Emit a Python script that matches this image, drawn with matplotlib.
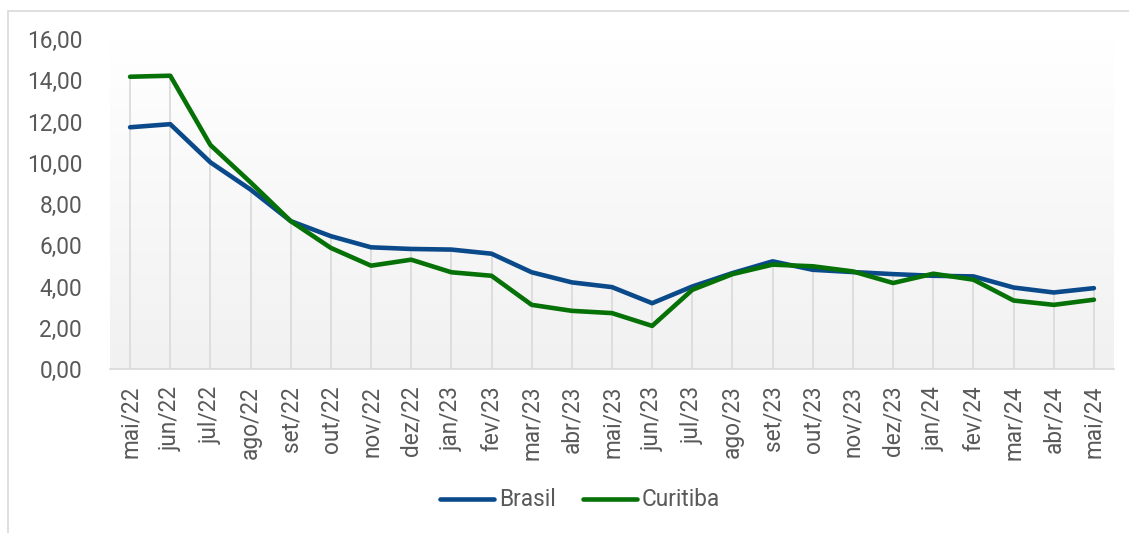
import numpy as np
import matplotlib.pyplot as plt
from matplotlib.patches import Rectangle

plt.rcParams['font.family'] = ['Roboto', 'DejaVu Sans']

meses = ['mai/22', 'jun/22', 'jul/22', 'ago/22', 'set/22', 'out/22', 'nov/22', 'dez/22',
         'jan/23', 'fev/23', 'mar/23', 'abr/23', 'mai/23', 'jun/23', 'jul/23', 'ago/23',
         'set/23', 'out/23', 'nov/23', 'dez/23', 'jan/24', 'fev/24', 'mar/24', 'abr/24',
         'mai/24']
brasil = [11.72, 11.87, 10.02, 8.70, 7.17, 6.44, 5.90, 5.82, 5.79, 5.59, 4.69, 4.20, 3.97,
          3.19, 4.00, 4.65, 5.22, 4.81, 4.70, 4.60, 4.52, 4.49, 3.95, 3.71, 3.92]
curitiba = [14.17, 14.22, 10.86, 9.05, 7.17, 5.87, 5.01, 5.30, 4.69, 4.52, 3.11, 2.82, 2.71,
            2.09, 3.84, 4.60, 5.06, 4.98, 4.73, 4.17, 4.62, 4.33, 3.32, 3.11, 3.36]
yticks = [0, 2, 4, 6, 8, 10, 12, 14, 16]

txt = '#595959'
fs = 16.3
fig = plt.figure(figsize=(11.29, 5.33), dpi=100)
# chart border
fig.patches.append(Rectangle((8/1129, -0.1), 1.2, 1 - 11/533 + 0.1, transform=fig.transFigure,
                             fill=False, edgecolor='#d9d9d9', lw=1.2))
ax = fig.add_axes([110/1129, 1 - 369/533, 1004/1129, 330/533])

x = np.arange(len(meses))
ax.set_xlim(-0.5, len(meses) - 0.5)
ax.set_ylim(0, 16)

# gradient background of the plot area (white top -> light grey bottom)
g = np.linspace(1.0, 0.945, 256)
grad = np.dstack([g, g, g]).reshape(256, 1, 3)
ax.imshow(grad, extent=[-0.5, len(meses) - 0.5, 0, 16], aspect='auto', zorder=0, origin='upper')

# drop lines
top = np.maximum(brasil, curitiba)
ax.vlines(x, 0, top, color='#d9d9d9', lw=1.2, zorder=1)

ax.plot(x, brasil, color='#0B4A8A', lw=3.3, label='Brasil', zorder=3, solid_capstyle='round')
ax.plot(x, curitiba, color='#067106', lw=3.3, label='Curitiba', zorder=3, solid_capstyle='round')

for s in ['top', 'right', 'left']:
    ax.spines[s].set_visible(False)
ax.spines['bottom'].set_color('#d9d9d9')
ax.spines['bottom'].set_linewidth(1.2)

ax.set_xticks(x)
ax.set_xticklabels(meses, rotation=90, fontsize=fs, color=txt)
ax.set_yticks(yticks)
ax.set_yticklabels([f'{v:.2f}'.replace('.', ',') for v in yticks], fontsize=fs, color=txt)
ax.tick_params(axis='x', length=0, pad=12)
ax.tick_params(axis='y', length=0, pad=20)

leg = ax.legend(loc='center', bbox_to_anchor=(580/1129, 1 - 500/533), bbox_transform=fig.transFigure,
                ncol=2, frameon=False, fontsize=fs, handlelength=2.4, handletextpad=0.2,
                columnspacing=1.2)
for t in leg.get_texts():
    t.set_color(txt)

fig.savefig('out.png', dpi=100)
